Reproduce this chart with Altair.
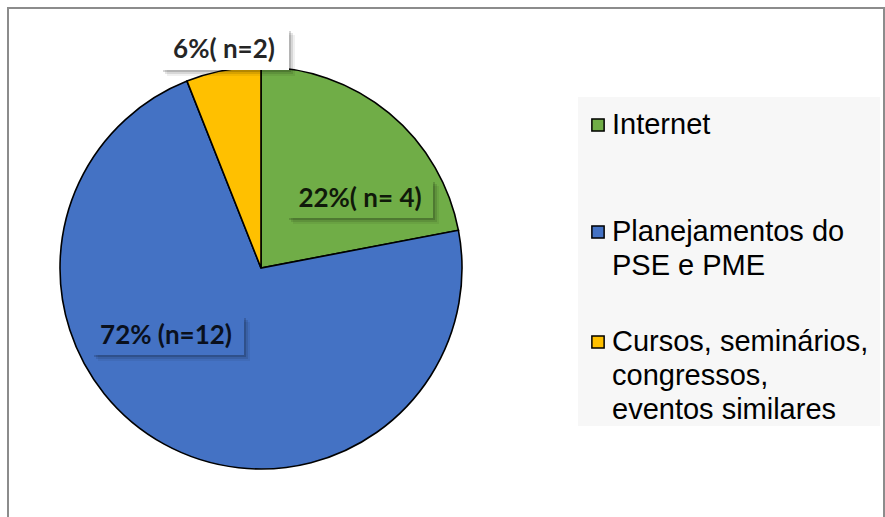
import altair as alt
import pandas as pd
import math

# ---- data ----
categories = ["Internet", "Planejamentos do PSE e PME", "Cursos, seminários, congressos, eventos similares"]
legend_lines = [["Internet"], ["Planejamentos do", "PSE e PME"], ["Cursos, seminários,", "congressos,", "eventos similares"]]
percent = [22, 72, 6]
counts = [4, 12, 2]
label_texts = ["22%( n= 4)", "72% (n=12)", "6%( n=2)"]
colors = ["#70AD47", "#4472C4", "#FFC000"]

# ---- layout ----
W, H = 885, 517
CX, CY, R = 261, 268, 201
label_pos = [(360, 199), (166, 336), (224, 50)]
label_box = [(287, 180, 433, 218), (92, 316, 244, 355), (161, 29, 289, 70)]
label_fill = [colors[0], colors[1], "#FFFFFF"]
legend_bg = (578, 97, 880, 426)
legend_sym_x = 598
legend_text_x = 612
legend_first_y = [125, 232, 342]
legend_line_h = 34

df = pd.DataFrame({"cat": categories, "pct": percent, "n": counts, "order": [0, 1, 2]})
color_scale = alt.Scale(domain=categories, range=colors)

layers = []

# outer frame
layers.append(alt.Chart(pd.DataFrame({"a": [0]})).mark_rect(fill=None, stroke="#8C8C8C", strokeWidth=2).encode(
    x=alt.value(8), x2=alt.value(884), y=alt.value(8), y2=alt.value(560)))

# soft shadow of pie
for k, op in [(14, 0.025), (10, 0.035), (6, 0.05), (3, 0.07)]:
    layers.append(alt.Chart(pd.DataFrame({"a": [0]})).mark_circle(color="#000000", opacity=op).encode(
        x=alt.value(CX + 4), y=alt.value(CY + 5), size=alt.value(math.pi * (R + k) ** 2)))

# pie
layers.append(alt.Chart(df).mark_arc(stroke="#000000", strokeWidth=1.6, radius=R).encode(
    theta=alt.Theta("pct:Q", stack=True),
    order=alt.Order("order:Q"),
    color=alt.Color("cat:N", scale=color_scale, legend=None),
    x=alt.value(CX), y=alt.value(CY),
))

# labels with boxes
for i in range(3):
    x0, y0, x1, y1 = label_box[i]
    for off, op in [(6, 0.06), (4, 0.10), (2, 0.16)]:
        layers.append(alt.Chart(pd.DataFrame({"a": [0]})).mark_rect(color="#000000", opacity=op).encode(
            x=alt.value(x0 + off), x2=alt.value(x1 + off), y=alt.value(y0 + off), y2=alt.value(y1 + off)))
    layers.append(alt.Chart(pd.DataFrame({"a": [0]})).mark_rect(color=label_fill[i]).encode(
        x=alt.value(x0), x2=alt.value(x1), y=alt.value(y0), y2=alt.value(y1)))
    layers.append(alt.Chart(pd.DataFrame({"t": [label_texts[i]]})).mark_text(
        font="Lato", fontWeight="bold", fontSize=26, color="#000000", opacity=0.85,
        align="center", baseline="middle").encode(
        text="t:N", x=alt.value(label_pos[i][0]), y=alt.value(label_pos[i][1])))

# legend background
bx0, by0, bx1, by1 = legend_bg
layers.append(alt.Chart(pd.DataFrame({"a": [0]})).mark_rect(color="#F7F7F7").encode(
    x=alt.value(bx0), x2=alt.value(bx1), y=alt.value(by0), y2=alt.value(by1)))

# legend entries
for i, cat in enumerate(categories):
    layers.append(alt.Chart(pd.DataFrame({"cat": [cat]})).mark_square(
        size=150, opacity=1, stroke="#000000", strokeWidth=1.5, filled=True).encode(
        x=alt.value(legend_sym_x), y=alt.value(legend_first_y[i]),
        color=alt.Color("cat:N", scale=color_scale, legend=None)))
    for j, line in enumerate(legend_lines[i]):
        layers.append(alt.Chart(pd.DataFrame({"t": [line]})).mark_text(
            font="Liberation Sans", fontSize=29, color="#000000", align="left", baseline="middle").encode(
            text="t:N", x=alt.value(legend_text_x), y=alt.value(legend_first_y[i] + j * legend_line_h)))

chart = alt.layer(*layers).properties(
    width=W, height=H, autosize=alt.AutoSizeParams(type="none"), padding=0, background="#FFFFFF"
).configure_view(stroke=None)

chart.save("out.html", embed_options={"renderer": "svg", "actions": False})
